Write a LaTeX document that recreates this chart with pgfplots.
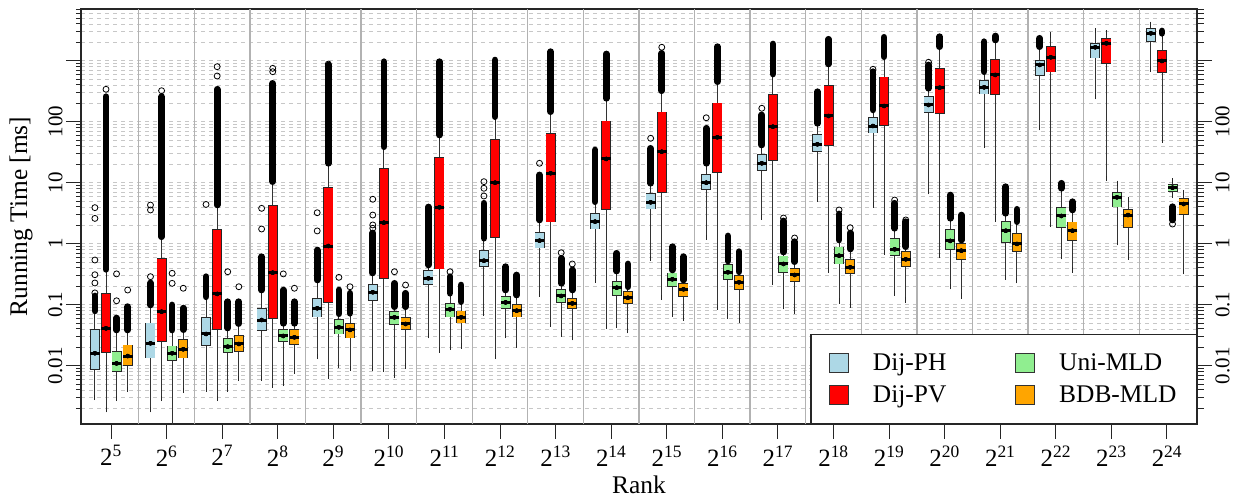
\documentclass[border=0pt]{standalone}
\usepackage{fontspec}
\setmainfont{Liberation Serif}
\usepackage{pgfplots}
\usepackage{pgfplotstable}
\pgfplotsset{compat=1.18}
\definecolor{cPH}{HTML}{ADD8E6}
\definecolor{cPV}{HTML}{FF0000}
\definecolor{cUni}{HTML}{90EE90}
\definecolor{cBDB}{HTML}{FFA500}
% x = box position, lw = lower whisker, q1, med, q3, uw = upper whisker
\pgfplotstableread{
x lw q1 med q3 uw
-0.29 0.0030 0.0085 0.016 0.040 0.064
0.71 0.0019 0.0132 0.0233 0.0507 0.082
1.71 0.0041 0.021 0.0331 0.0621 0.119
2.71 0.0062 0.0375 0.0561 0.0873 0.144
3.71 0.0141 0.0621 0.0873 0.127 0.218
4.71 0.0091 0.115 0.16 0.216 0.274
5.71 0.031 0.21 0.271 0.371 0.415
6.71 0.0723 0.42 0.526 0.788 1.07
7.71 0.150 0.84 1.12 1.54 2.1
8.71 0.254 1.72 2.3 3.15 4.31
9.71 0.576 3.66 4.77 6.7 8.5
10.71 1.27 7.59 10.0 13.9 18.1
11.71 2.71 15.6 20.8 29.5 37
12.71 5.35 32.2 42.6 62.8 85
13.71 4.31 64.5 85 118 144
14.71 7.12 141 188 264 331
15.71 41.5 281 366 483 605
16.71 79.7 561 851 1026 1556
17.71 257 1094 1660 1972 3105
18.71 731 2004 2813 3397 3954
}\tPH
\pgfplotstableread{
x lw q1 med q3 uw
-0.09 0.0019 0.016 0.041 0.157 0.31
0.91 0.0029 0.0247 0.0768 0.576 1.15
1.91 0.0029 0.0385 0.150 1.72 3.85
2.91 0.0048 0.0583 0.335 4.26 9.2
3.91 0.0068 0.108 0.916 8.41 18.8
4.91 0.0087 0.261 2.21 17.2 34.4
5.91 0.0181 0.38 3.95 26.1 54
6.91 0.0141 1.23 10.0 51.5 107
7.91 0.0477 2.24 14.3 64.5 139
8.91 0.0448 3.57 24.5 104 227
9.91 0.132 6.86 32.2 146 295
10.91 0.0906 14.3 55.5 205 415
11.91 0.23 22.7 82.8 281 540
12.91 0.371 40 124 400 819
13.91 0.723 85.9 181 547 1107
14.91 0.636 134 361 750 1615
15.91 2.54 274 583 1067 2026
16.91 2.08 645 1137 1742 2637
17.91 11.8 873 1929 2329 2877
18.91 50.1 635 989 1497 2540
}\tPV
\pgfplotstableread{
x lw q1 med q3 uw
0.10 0.0029 0.0080 0.0109 0.0172 0.0343
1.10 0.0008 0.0119 0.016 0.0213 0.0319
2.10 0.0041 0.016 0.0205 0.0281 0.0385
3.10 0.0051 0.0242 0.0307 0.040 0.045
4.10 0.010 0.0327 0.0426 0.0576 0.0653
5.10 0.0070 0.0465 0.0621 0.0788 0.0867
6.10 0.020 0.0621 0.0841 0.105 0.139
7.10 0.031 0.0841 0.109 0.139 0.162
8.10 0.0327 0.108 0.139 0.179 0.203
9.10 0.0465 0.141 0.19 0.247 0.33
10.10 0.0704 0.197 0.261 0.335 0.357
11.10 0.0653 0.254 0.34 0.459 0.483
12.10 0.0927 0.335 0.465 0.636 0.70
13.10 0.115 0.459 0.636 0.893 1.07
14.10 0.154 0.636 0.81 1.23 1.68
15.10 0.197 0.788 1.11 1.72 2.45
16.10 0.281 1.04 1.63 2.38 2.95
17.10 0.612 1.79 2.85 4.04 7.04
18.10 1.04 3.95 5.76 6.96 9.78
19.10 6.29 7.12 8.28 9.42 10.8
}\tUni
\pgfplotstableread{
x lw q1 med q3 uw
0.30 0.0041 0.010 0.0144 0.0221 0.034
1.30 0.0039 0.0132 0.0186 0.0271 0.037
2.30 0.0062 0.017 0.0227 0.0319 0.043
3.30 0.0082 0.0218 0.0292 0.0395 0.045
4.30 0.0091 0.0281 0.0385 0.0495 0.065
5.30 0.0099 0.0385 0.0483 0.0621 0.082
6.30 0.021 0.0495 0.0621 0.0798 0.107
7.30 0.0218 0.0621 0.0798 0.103 0.134
8.30 0.0288 0.0841 0.105 0.127 0.162
9.30 0.0375 0.103 0.13 0.168 0.18
10.30 0.0598 0.135 0.179 0.224 0.244
11.30 0.0547 0.174 0.233 0.307 0.331
12.30 0.0788 0.233 0.307 0.395 0.465
13.30 0.099 0.315 0.41 0.555 0.73
14.30 0.119 0.42 0.555 0.759 0.85
15.30 0.139 0.541 0.768 1.02 1.07
16.30 0.247 0.74 0.99 1.48 2.1
17.30 0.371 1.12 1.63 2.3 3.19
18.30 0.605 1.83 2.95 3.66 5.35
19.30 0.347 2.95 4.48 5.55 6.86
}\tBDB
\newcommand\drawseries[2]{%
\addplot[forget plot, only marks, mark=none, error bars/.cd, y dir=both, y explicit,
  error bar style={black!80, line width=0.9bp}, error mark=-,
  error mark options={black!85, line width=0.9bp, mark size=2.6bp}]
  table[x=x, y=med, y error plus expr=\thisrow{uw}-\thisrow{med}, y error minus expr=\thisrow{med}-\thisrow{lw}] {#1};
\addplot[forget plot, only marks, mark=none, error bars/.cd, y dir=both, y explicit,
  error bar style={black!85, line width=10bp}, error mark=-,
  error mark options={draw=none, mark size=0pt}]
  table[x=x, y=med, y error plus expr=\thisrow{q3}-\thisrow{med}, y error minus expr=\thisrow{med}-\thisrow{q1}] {#1};
\addplot[forget plot, only marks, mark=none, error bars/.cd, y dir=both, y explicit,
  error bar style={#2, line width=8.4bp, shorten >=0.8bp, shorten <=0.8bp}, error mark=-,
  error mark options={draw=none, mark size=0pt}]
  table[x=x, y=med, y error plus expr=\thisrow{q3}-\thisrow{med}, y error minus expr=\thisrow{med}-\thisrow{q1}] {#1};
\addplot[forget plot, only marks, mark=-, mark size=4.9bp, mark options={black, line width=3bp}]
  table[x=x, y=med] {#1};
}
\begin{document}
\begin{tikzpicture}
\begin{axis}[
  at={(81bp,73bp)}, anchor=south west,
  scale only axis, width=1116bp, height=415bp,
  xmin=-0.54, xmax=19.54,
  ymode=log, ymin=0.001107, ymax=7040,
  ytick={0.01,0.1,1,10,100,1000},
  yticklabels={0.01,0.1,1,10,100,{}},
  minor ytick={0.002,0.003,0.004,0.005,0.006,0.007,0.008,0.009,0.02,0.03,0.04,0.05,0.06,0.07,0.08,0.09,0.2,0.3,0.4,0.5,0.6,0.7,0.8,0.9,2,3,4,5,6,7,8,9,20,30,40,50,60,70,80,90,200,300,400,500,600,700,800,900,2000,3000,4000,5000,6000,7000},
  xtick={0,...,19},
  xticklabels={2\textsuperscript{5},2\textsuperscript{6},2\textsuperscript{7},2\textsuperscript{8},2\textsuperscript{9},2\textsuperscript{10},2\textsuperscript{11},2\textsuperscript{12},2\textsuperscript{13},2\textsuperscript{14},2\textsuperscript{15},2\textsuperscript{16},2\textsuperscript{17},2\textsuperscript{18},2\textsuperscript{19},2\textsuperscript{20},2\textsuperscript{21},2\textsuperscript{22},2\textsuperscript{23},2\textsuperscript{24}},
  xtick pos=left, ytick pos=left,
  tick align=outside,
  major tick length=15bp, minor tick length=5bp,
  ymajorgrids, yminorgrids,
  major grid style={black!22, dash pattern=on 4bp off 4bp, line width=0.8bp},
  minor grid style={black!22, dash pattern=on 4bp off 4bp, line width=0.8bp},
  extra x ticks={0.5,1.5,...,18.5},
  extra x tick labels={},
  extra x tick style={grid=major, major tick length=0pt, major grid style={solid, black!30, line width=1.3bp}},
  axis line style={black!85, line width=1.2bp},
  tick style={black!85, line width=1bp},
  yticklabel style={rotate=90, anchor=south, font=\fontsize{21}{24}\selectfont},
  xticklabel style={font=\fontsize{25}{30}\selectfont, yshift=-3bp},
  xlabel={Rank}, ylabel={Running Time [ms]},
  every axis x label/.style={at={(axis description cs:0.5,-0.146)}, anchor=center, font=\fontsize{25.5}{30}\selectfont},
  every axis y label/.style={at={(axis description cs:-0.0538,0.5)}, anchor=center, rotate=90, font=\fontsize{25.5}{30}\selectfont},
  legend image code/.code={\draw[#1, draw=black!80, line width=0.9bp] (0bp,-9.5bp) rectangle (19bp,9.5bp);},
  legend columns=2,
  legend cell align=left,
  legend style={at={(1,0)}, anchor=south east, draw=black!85, line width=1.2bp, fill=white,
    font=\fontsize{25.5}{30}\selectfont, inner xsep=18bp, inner ysep=17bp, row sep=10bp,
    /tikz/every odd column/.append style={column sep=22bp},
    /tikz/every even column/.append style={column sep=67bp}},
]
\addlegendimage{fill=cPH}\addlegendentry{Dij-PH}
\addlegendimage{fill=cUni}\addlegendentry{Uni-MLD}
\addlegendimage{fill=cPV}\addlegendentry{Dij-PV}
\addlegendimage{fill=cBDB}\addlegendentry{BDB-MLD}
\drawseries{\tPH}{cPH}
\drawseries{\tPV}{cPV}
\drawseries{\tUni}{cUni}
\drawseries{\tBDB}{cBDB}
% dense runs of outliers (lowest and highest outlier of each run)
\addplot[forget plot, black, line width=6.7bp, line cap=round, unbounded coords=jump] table[row sep=\\] {
x y\\
-0.29 0.079\\ -0.29 0.139\\ nan nan\\ -0.09 0.38\\ -0.09 257\\ nan nan\\ 0.10 0.0385\\ 0.10 0.0605\\ nan nan\\ 0.30 0.0385\\ 0.30 0.093\\ nan nan\\
0.71 0.099\\ 0.71 0.227\\ nan nan\\ 0.91 1.30\\ 0.91 257\\ nan nan\\ 1.10 0.0385\\ 1.10 0.099\\ nan nan\\ 1.30 0.039\\ 1.30 0.088\\ nan nan\\
1.71 0.135\\ 1.71 0.288\\ nan nan\\ 1.91 4.31\\ 1.91 340\\ nan nan\\ 2.10 0.0415\\ 2.10 0.112\\ nan nan\\ 2.30 0.049\\ 2.30 0.112\\ nan nan\\
2.71 0.174\\ 2.71 0.612\\ nan nan\\ 2.91 10.4\\ 2.91 425\\ nan nan\\ 3.10 0.0495\\ 3.10 0.174\\ nan nan\\ 3.30 0.0495\\ 3.30 0.112\\ nan nan\\
3.71 0.254\\ 3.71 0.788\\ nan nan\\ 3.91 20.8\\ 3.91 850\\ nan nan\\ 4.10 0.0711\\ 4.10 0.174\\ nan nan\\ 4.30 0.0723\\ 4.30 0.154\\ nan nan\\
4.71 0.331\\ 4.71 1.50\\ nan nan\\ 4.91 38.9\\ 4.91 963\\ nan nan\\ 5.10 0.0927\\ 5.10 0.224\\ nan nan\\ 5.30 0.0927\\ 5.30 0.154\\ nan nan\\
5.71 0.448\\ 5.71 4.0\\ nan nan\\ 5.91 60.5\\ 5.91 963\\ nan nan\\ 6.10 0.154\\ 6.10 0.288\\ nan nan\\ 6.30 0.112\\ 6.30 0.21\\ nan nan\\
6.71 1.23\\ 6.71 4.6\\ nan nan\\ 6.91 121\\ 6.91 1026\\ nan nan\\ 7.10 0.174\\ 7.10 0.42\\ nan nan\\ 7.30 0.144\\ 7.30 0.307\\ nan nan\\
7.71 2.45\\ 7.71 13.4\\ nan nan\\ 7.91 146\\ 7.91 1405\\ nan nan\\ 8.10 0.224\\ 8.10 0.576\\ nan nan\\ 8.30 0.174\\ 8.30 0.371\\ nan nan\\
8.71 4.88\\ 8.71 34.4\\ nan nan\\ 8.91 242\\ 8.91 1290\\ nan nan\\ 9.10 0.356\\ 9.10 0.696\\ nan nan\\ 9.30 0.197\\ 9.30 0.465\\ nan nan\\
9.71 9.78\\ 9.71 36.6\\ nan nan\\ 9.91 322\\ 9.91 1322\\ nan nan\\ 10.10 0.371\\ 10.10 0.893\\ nan nan\\ 10.30 0.254\\ 10.30 0.612\\ nan nan\\
10.71 20.8\\ 10.71 78\\ nan nan\\ 10.91 453\\ 10.91 1698\\ nan nan\\ 11.10 0.52\\ 11.10 1.34\\ nan nan\\ 11.30 0.347\\ 11.30 0.74\\ nan nan\\
11.71 41.5\\ 11.71 129\\ nan nan\\ 11.91 605\\ 11.91 1878\\ nan nan\\ 12.10 0.73\\ 12.10 2.36\\ nan nan\\ 12.30 0.507\\ 12.30 1.08\\ nan nan\\
12.71 94\\ 12.71 310\\ nan nan\\ 12.91 883\\ 12.91 2244\\ nan nan\\ 13.10 1.15\\ 13.10 3.07\\ nan nan\\ 13.30 0.819\\ 13.30 1.5\\ nan nan\\
13.71 156\\ 13.71 660\\ nan nan\\ 13.91 1163\\ 13.91 2420\\ nan nan\\ 14.10 1.79\\ 14.10 4.6\\ nan nan\\ 14.30 0.893\\ 14.30 2.3\\ nan nan\\
14.71 353\\ 14.71 851\\ nan nan\\ 14.91 1698\\ 14.91 2474\\ nan nan\\ 15.10 2.61\\ 15.10 6.28\\ nan nan\\ 15.30 1.15\\ 15.30 2.95\\ nan nan\\
15.71 660\\ 15.71 2048\\ nan nan\\ 15.91 2184\\ 15.91 2540\\ nan nan\\ 16.10 3.15\\ 16.10 8.6\\ nan nan\\ 16.30 2.3\\ 16.30 3.66\\ nan nan\\
16.71 1698\\ 16.71 2329\\ nan nan\\ 17.10 8.1\\ 17.10 9.78\\ nan nan\\ 17.30 3.57\\ 17.30 4.88\\ nan nan\\
18.91 2813\\ 18.91 3069\\ nan nan\\ 19.10 2.45\\ 19.10 4.04\\
};
% isolated outliers
\addplot[forget plot, only marks, mark=o, mark size=3bp, mark options={black, line width=0.8bp}] table[row sep=\\] {
x y\\
-0.29 0.156\\ -0.29 0.227\\ -0.29 0.31\\ -0.29 0.54\\ -0.29 2.6\\ -0.29 3.9\\ -0.09 340\\ 0.10 0.116\\ 0.10 0.32\\ 0.30 0.174\\
0.71 0.288\\ 0.71 3.57\\ 0.71 4.3\\ 0.91 322\\ 1.10 0.224\\ 1.10 0.327\\ 1.30 0.186\\
1.71 4.4\\ 1.91 561\\ 1.91 798\\ 2.10 0.347\\ 2.30 0.197\\
2.71 1.74\\ 2.71 3.8\\ 2.91 660\\ 2.91 750\\ 3.10 0.32\\ 3.30 0.186\\
3.71 1.62\\ 3.71 3.22\\ 3.91 880\\ 4.10 0.281\\ 4.30 0.197\\
4.71 1.79\\ 4.71 2.03\\ 4.71 2.95\\ 4.71 5.35\\ 5.10 0.347\\ 5.30 0.21\\
6.10 0.347\\
6.71 6.05\\ 6.71 8.1\\ 6.71 10.4\\
7.71 20.8\\ 8.10 0.711\\ 8.30 0.465\\
9.71 53.4\\ 9.91 1660\\
10.71 116\\
11.71 166\\ 12.10 2.64\\ 12.30 1.24\\
13.10 3.57\\ 13.30 1.83\\
13.71 723\\ 14.10 5.2\\ 14.30 2.45\\
14.71 942\\
19.10 2.1\\
};
\end{axis}
\begin{axis}[
  at={(81bp,73bp)}, anchor=south west,
  scale only axis, width=1116bp, height=415bp,
  xmin=-0.54, xmax=19.54,
  ymode=log, ymin=0.001107, ymax=7040,
  ytick={0.01,0.1,1,10,100,1000},
  yticklabels={0.01,0.1,1,10,100,{}},
  minor ytick={0.002,0.003,0.004,0.005,0.006,0.007,0.008,0.009,0.02,0.03,0.04,0.05,0.06,0.07,0.08,0.09,0.2,0.3,0.4,0.5,0.6,0.7,0.8,0.9,2,3,4,5,6,7,8,9,20,30,40,50,60,70,80,90,200,300,400,500,600,700,800,900,2000,3000,4000,5000,6000,7000},
  axis x line=none, axis y line*=right,
  tick align=outside,
  major tick length=15bp, minor tick length=7bp,
  axis line style={black!85, line width=1.2bp},
  tick style={black!85, line width=1bp},
  yticklabel style={rotate=90, anchor=north, font=\fontsize{21}{24}\selectfont},
]
\end{axis}
\pgfresetboundingbox
\path[use as bounding box] (0,0) rectangle (1245bp,497bp);
\end{tikzpicture}
\end{document}
